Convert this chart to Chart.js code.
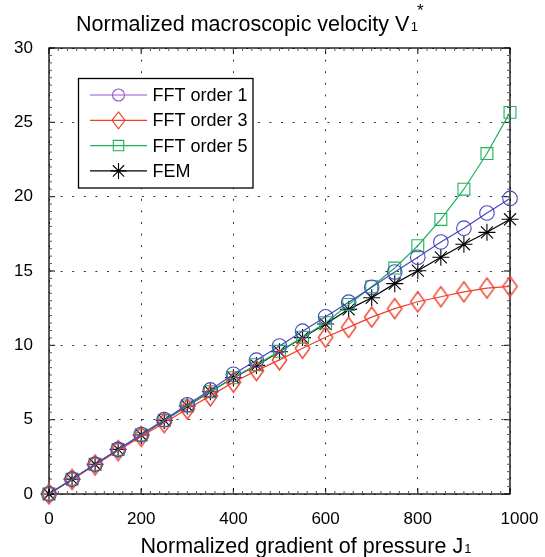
<!DOCTYPE html>
<html>
<head>
<meta charset="utf-8">
<script src="https://cdn.jsdelivr.net/npm/chart.js@4.4.1/dist/chart.umd.min.js"></script>
<style>
  html, body { margin: 0; padding: 0; background: #fff; }
  canvas { display: block; }
</style>
</head>
<body>
<canvas id="velocity-chart" width="545" height="557"></canvas>
<script>
/* Normalized macroscopic velocity vs pressure gradient */

const gradientJ = [0, 50, 100, 150, 200, 250, 300, 350, 400, 450, 500,
                   550, 600, 650, 700, 750, 800, 850, 900, 950, 1000];
const fftOrder1 = [0, 1.0, 2.0, 3.0, 4.0, 5.0, 6.0, 7.0, 8.05, 9.0, 9.95,
                   10.95, 11.92, 12.9, 13.9, 14.93, 15.92, 16.95, 17.88, 18.9, 19.88];
const fftOrder3 = [0, 0.98, 1.95, 2.92, 3.87, 4.8, 5.72, 6.6, 7.52, 8.3, 9.02,
                   9.8, 10.54, 11.21, 11.9, 12.47, 12.93, 13.27, 13.6, 13.85, 13.96];
const fftOrder5 = [0, 1.0, 2.0, 3.0, 3.97, 4.95, 5.92, 6.88, 7.82, 8.7, 9.6,
                   10.55, 11.52, 12.75, 13.94, 15.2, 16.7, 18.47, 20.5, 22.9, 25.67];
const femValues = [0, 1.0, 2.0, 3.0, 3.97, 4.95, 5.92, 6.88, 7.82, 8.65, 9.57,
                   10.52, 11.43, 12.42, 13.2, 14.15, 15.02, 15.92, 16.8, 17.6, 18.48];

const xTickValues = [0, 200, 400, 600, 800, 1000];
const yTickValues = [0, 5, 10, 15, 20, 25, 30];

const FONT = '"Liberation Sans", Arial, Helvetica, sans-serif';

// hollow diamond, a bit taller than wide
function diamondImage(w, h, color, lw) {
  const c = document.createElement('canvas');
  c.width = Math.ceil(w + lw * 2) + 1;
  c.height = Math.ceil(h + lw * 2) + 1;
  const g = c.getContext('2d');
  const cx = c.width / 2, cy = c.height / 2;
  g.strokeStyle = color;
  g.lineWidth = lw;
  g.beginPath();
  g.moveTo(cx, cy - h / 2);
  g.lineTo(cx + w / 2, cy);
  g.lineTo(cx, cy + h / 2);
  g.lineTo(cx - w / 2, cy);
  g.closePath();
  g.stroke();
  return c;
}

const series = [
  { label: 'FFT order 1', data: fftOrder1, color: '#4a46c0', legendColor: '#a04fd4', marker: 'circle' },
  { label: 'FFT order 3', data: fftOrder3, color: '#ee3f2c', legendColor: '#ee3f2c', marker: 'diamond' },
  { label: 'FFT order 5', data: fftOrder5, color: '#1fb25c', legendColor: '#1fb25c', marker: 'square' },
  { label: 'FEM',         data: femValues, color: '#000000', legendColor: '#000000', marker: 'star' }
];

const pointStyles = {
  circle:  { style: 'circle', radius: 7.3 },
  diamond: { style: diamondImage(14.5, 20, '#ee3f2c', 1.35), radius: 8 },
  square:  { style: 'rect', radius: 8.4 },
  star:    { style: 'star', radius: 8.5 }
};

// legend markers are drawn by hand, smaller than in the plot
function drawLegendMarker(ctx, marker, x, y, color) {
  ctx.save();
  ctx.strokeStyle = color;
  ctx.lineWidth = 1.1;
  ctx.beginPath();
  if (marker === 'circle') {
    ctx.arc(x, y, 6, 0, Math.PI * 2);
  } else if (marker === 'diamond') {
    ctx.moveTo(x, y - 8.5); ctx.lineTo(x + 6.5, y); ctx.lineTo(x, y + 8.5); ctx.lineTo(x - 6.5, y); ctx.closePath();
  } else if (marker === 'square') {
    ctx.rect(x - 5.2, y - 5.2, 10.4, 10.4);
  } else {
    const r = 8;
    for (let k = 0; k < 4; k++) {
      const a = k * Math.PI / 4;
      ctx.moveTo(x - Math.sin(a) * r, y - Math.cos(a) * r);
      ctx.lineTo(x + Math.sin(a) * r, y + Math.cos(a) * r);
    }
  }
  ctx.stroke();
  ctx.restore();
}

const framePlugin = {
  id: 'frame',
  beforeDatasetsDraw(chart) {
    const { ctx, chartArea: a, scales } = chart;
    const xs = scales.x, ys = scales.y;
    ctx.save();
    ctx.strokeStyle = '#000';
    ctx.lineWidth = 1.3;
    ctx.strokeRect(a.left, a.top, a.right - a.left, a.bottom - a.top);

    ctx.lineWidth = 1;
    ctx.beginPath();
    // major ticks, pointing inwards
    xTickValues.forEach(v => {
      const px = xs.getPixelForValue(v);
      ctx.moveTo(px, a.bottom); ctx.lineTo(px, a.bottom - 6);
      ctx.moveTo(px, a.top); ctx.lineTo(px, a.top + 6);
    });
    yTickValues.forEach(v => {
      const py = ys.getPixelForValue(v);
      ctx.moveTo(a.left, py); ctx.lineTo(a.left + 6, py);
      ctx.moveTo(a.right, py); ctx.lineTo(a.right - 6, py);
    });
    ctx.stroke();

    // minor ticks
    ctx.strokeStyle = '#555';
    ctx.beginPath();
    for (let v = 20; v < 1000; v += 20) {
      const px = xs.getPixelForValue(v);
      ctx.moveTo(px, a.bottom); ctx.lineTo(px, a.bottom - 3);
      ctx.moveTo(px, a.top); ctx.lineTo(px, a.top + 3);
    }
    for (let v = 0.5; v < 30; v += 0.5) {
      const py = ys.getPixelForValue(v);
      ctx.moveTo(a.left, py); ctx.lineTo(a.left + 3, py);
      ctx.moveTo(a.right, py); ctx.lineTo(a.right - 3, py);
    }
    ctx.stroke();
    ctx.restore();
  },

  afterDraw(chart) {
    const ctx = chart.ctx;
    ctx.save();
    ctx.fillStyle = '#000';
    ctx.textAlign = 'left';
    ctx.textBaseline = 'alphabetic';

    // chart title with subscript and star
    let t = 'Normalized macroscopic velocity V';
    ctx.font = '21.5px ' + FONT;
    ctx.fillText(t, 76, 30.5);
    let x = 76 + ctx.measureText(t).width + 1.5;
    ctx.font = '13px ' + FONT;
    ctx.fillText('1', x, 30.5);
    const w1 = ctx.measureText('1').width;
    ctx.font = '17px ' + FONT;
    ctx.fillText('*', x + w1 - 1, 15.5);

    // x axis title
    t = 'Normalized gradient of pressure J';
    ctx.font = '21.5px ' + FONT;
    ctx.fillText(t, 140.5, 553);
    x = 140.5 + ctx.measureText(t).width + 1;
    ctx.font = '13px ' + FONT;
    ctx.fillText('1', x, 553);

    // legend box
    const bx = 78.5, by = 78.5, bw = 174.5, bh = 109.5;
    ctx.fillStyle = '#fff';
    ctx.fillRect(bx, by, bw, bh);
    ctx.strokeStyle = '#000';
    ctx.lineWidth = 1.3;
    ctx.strokeRect(bx, by, bw, bh);

    ctx.font = '18px ' + FONT;
    ctx.textBaseline = 'middle';
    series.forEach((s, i) => {
      const ry = 95 + i * 25.3;
      ctx.strokeStyle = s.legendColor;
      ctx.lineWidth = 1.2;
      ctx.beginPath();
      ctx.moveTo(90, ry);
      ctx.lineTo(147, ry);
      ctx.stroke();
      drawLegendMarker(ctx, s.marker, 118.5, ry, s.legendColor);
      ctx.fillStyle = '#000';
      ctx.fillText(s.label, 152.5, ry + 1);
    });
    ctx.restore();
  }
};

const ctx = document.getElementById('velocity-chart');
new Chart(ctx, {
  type: 'line',
  data: {
    datasets: series.map(s => ({
      label: s.label,
      data: gradientJ.map((j, i) => ({ x: j, y: s.data[i] })),
      borderColor: s.color,
      borderWidth: 1.2,
      tension: 0,
      fill: false,
      clip: false,
      pointStyle: pointStyles[s.marker].style,
      pointRadius: pointStyles[s.marker].radius,
      pointBorderColor: s.color,
      pointBorderWidth: 1.1,
      pointBackgroundColor: 'rgba(0,0,0,0)'
    }))
  },
  options: {
    responsive: false,
    animation: false,
    events: [],
    layout: { padding: { top: 48, right: 35, left: 0, bottom: 0 } },
    plugins: {
      legend: { display: false },
      title: { display: false },
      tooltip: { enabled: false }
    },
    scales: {
      x: {
        type: 'linear',
        min: 0,
        max: 1000,
        afterBuildTicks: s => { s.ticks = xTickValues.map(v => ({ value: v })); },
        afterFit: s => { s.height = 63; s.paddingLeft = 0; s.paddingRight = 0; },
        grid: { color: '#333', lineWidth: 1, drawTicks: false },
        border: { display: false, dash: [2, 9.6] },
        ticks: {
          color: '#000',
          font: { family: FONT, size: 17 },
          padding: 15,
          maxRotation: 0,
          // the last label sits a little right of its tick in the original
          callback: v => (v === 1000 ? '    1000' : String(v))
        }
      },
      y: {
        type: 'linear',
        min: 0,
        max: 30,
        afterBuildTicks: s => { s.ticks = yTickValues.map(v => ({ value: v })); },
        afterFit: s => { s.width = 49; s.paddingTop = 0; s.paddingBottom = 0; },
        grid: { color: '#333', lineWidth: 1, drawTicks: false },
        border: { display: false, dash: [2, 9.6] },
        ticks: { color: '#000', font: { family: FONT, size: 17 }, padding: 16 }
      }
    }
  },
  plugins: [framePlugin]
});
</script>
</body>
</html>
